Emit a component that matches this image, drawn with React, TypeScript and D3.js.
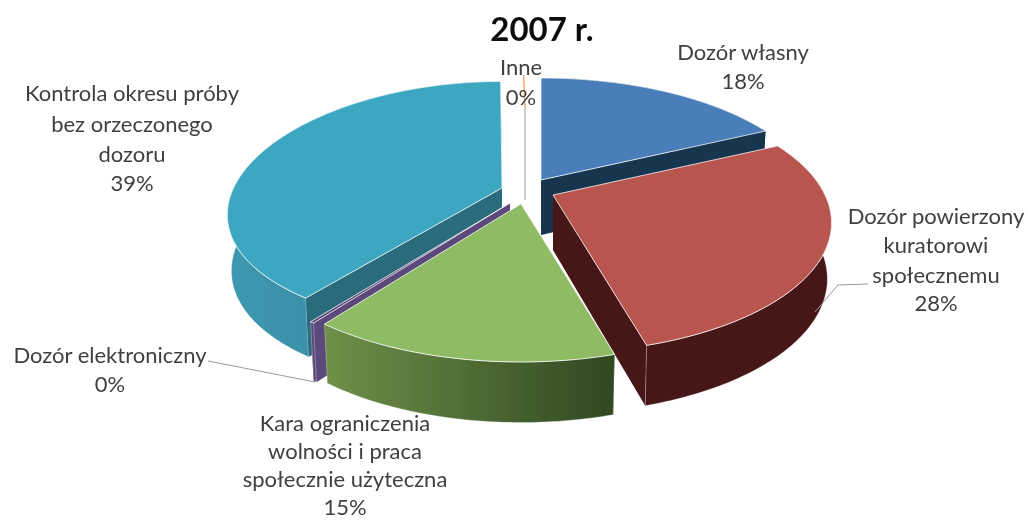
import React from "react";
import * as d3 from "d3";

// ---- data ----
const categories = ["Dozór własny", "Dozór powierzony kuratorowi społecznemu", "Kara ograniczenia wolności i praca społecznie użyteczna", "Dozór elektroniczny", "Kontrola okresu próby bez orzeczonego dozoru", "Inne"];
const values = [17.9, 27.7, 14.6, 0.2, 39.5, 0.1];
const percentLabels = ["18%", "28%", "15%", "0%", "39%", "0%"];
const title = "2007 r.";

// ---- styling / layout ----
const topColors = ["#4A7EBB", "#B95450", "#8EBB63", "#5B4A7C", "#3DA7C1", "#F79646"];
const wallColors = ["#14354F", "#471616", "#4f6b36", "#5B4A7C", "#2A6C7C", "#B36A2E"];
const gradFrom = ["#14354F", "#471616", "#6F9049", "#5B4A7C", "#3D98B0", "#F79646"];
const gradTo = ["#14354F", "#471616", "#2F4720", "#5B4A7C", "#367F96", "#F79646"];
const apexX = [541, 553, 521, 510, 502, 525];
const apexY = [180, 195, 204, 203, 188, 177];
const radiusFactor = [1, 1, 1, 1, 0.987, 1];
const depthY = [0.215, 0.215, 0.215, 0.215, 0.15, 0.215];
const paintOrder = [0, 4, 3, 5, 1, 2];

const labelLines = [
  { c: 743, ys: [53, 82], lines: ["Dozór własny", "18%"] },
  { c: 936, ys: [217, 246, 276, 304], lines: ["Dozór powierzony", "kuratorowi", "społecznemu", "28%"] },
  { c: 345, ys: [424, 452, 480, 508], lines: ["Kara ograniczenia", "wolności i praca", "społecznie użyteczna", "15%"] },
  { c: 110, ys: [356, 385], lines: ["Dozór elektroniczny", "0%"] },
  { c: 132, ys: [94, 125, 155, 184], lines: ["Kontrola okresu próby", "bez orzeczonego", "dozoru", "39%"] },
  { c: 521, ys: [68, 98], lines: ["Inne", "0%"] },
];
const leaders = [
  [[868, 284], [838, 285], [815, 312]],
  [[208, 361], [315, 382]],
  [[525, 108], [525, 200]],
];

const R = 272, RY = 124, K = 0.215, H = 55;
const BOTTOM_X = 0.985, BOTTOM_Y = 1.035;

const project = (i: number, a: number, bottom = false) => {
  const r = radiusFactor[i];
  const x = Math.sin(a) * r, y = Math.cos(a) * r;
  const sx = (x * R) / (1 + K * y), sy = (-y * RY) / (1 + depthY[i] * y);
  return bottom
    ? [apexX[i] + sx * BOTTOM_X, apexY[i] + sy * BOTTOM_Y + H]
    : [apexX[i] + sx, apexY[i] + sy];
};

const pieGen = d3.pie<number>().sort(null).value((d) => d);
const slices = pieGen(values);
const line = d3.line();

const arcPts = (i: number, a0: number, a1: number, bottom = false) => {
  const n = Math.max(2, Math.ceil((a1 - a0) * 60));
  return d3.range(n + 1).map((k) => project(i, a0 + ((a1 - a0) * k) / n, bottom)) as [number, number][];
};

export default function App() {
  return (
    <svg width={1028} height={520} style={{ position: "absolute", left: 0, top: 0, background: "#fff" }}>
      <defs>
        <filter id="soft" x="-5%" y="-5%" width="110%" height="110%">
          <feGaussianBlur stdDeviation="0.45" />
        </filter>
        {values.map((_, i) => (
          <linearGradient key={i} id={`wall${i}`} x1="0" x2="1" y1="0" y2="0">
            <stop offset="0" stopColor={gradFrom[i]} />
            <stop offset="1" stopColor={gradTo[i]} />
          </linearGradient>
        ))}
      </defs>
      <g filter="url(#soft)">
        {paintOrder.map((i) => {
          const s = slices[i];
          if (i === 5) return null;
          const apexT: [number, number] = [apexX[i], apexY[i]];
          const apexB: [number, number] = [apexX[i], apexY[i] + H];
          const radial = (a: number) => {
            const t = project(i, a) as [number, number];
            const b = project(i, a, true) as [number, number];
            return line([apexT, t, b, apexB])! + "Z";
          };
          const topArc = arcPts(i, s.startAngle, s.endAngle);
          const botArc = arcPts(i, s.startAngle, s.endAngle, true);
          const outer = line([...topArc, ...botArc.reverse()])! + "Z";
          const top = line([apexT, ...topArc])! + "Z";
          const backFacing = Math.cos((s.startAngle + s.endAngle) / 2) > 0;
          const outerPath = <path d={outer} fill={`url(#wall${i})`} stroke="#fff" strokeWidth={0.5} strokeOpacity={0.6} />;
          return (
            <g key={i}>
              {backFacing && outerPath}
              <path d={radial(s.endAngle)} fill={wallColors[i]} />
              <path d={radial(s.startAngle)} fill={wallColors[i]} />
              {!backFacing && outerPath}
              <path d={top} fill={topColors[i]} stroke="#fff" strokeWidth={0.9} strokeOpacity={0.85} strokeLinejoin="round" />
            </g>
          );
        })}
        {leaders.map((l, i) => (
          <path key={i} d={line(l as [number, number][])!} fill="none" stroke="#9a9a9a" strokeWidth={1} />
        ))}
        <path d={line([project(5, slices[5].startAngle) as [number, number], [525, 108]])!} fill="none" stroke={topColors[5]} strokeWidth={1.2} />
        <g fontFamily="Lato, 'Open Sans', sans-serif" fontSize={22} fill="#404040" textAnchor="middle">
          {labelLines.map((l, i) =>
            l.lines.map((t, j) => (
              <text key={`${i}-${j}`} x={l.c} y={l.ys[j] + 7}>{t}</text>
            ))
          )}
        </g>
        <text x={542} y={41} textAnchor="middle" fontFamily="Lato, 'Open Sans', sans-serif" fontWeight={700} fontSize={33} fill="#111">{title}</text>
      </g>
    </svg>
  );
}
